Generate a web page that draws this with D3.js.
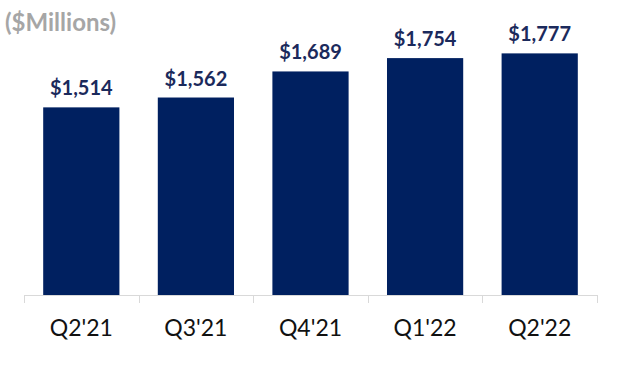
<!DOCTYPE html>
<html><head><meta charset="utf-8">
<script src="https://cdn.jsdelivr.net/npm/d3@7"></script>
<style>body{margin:0;background:#fff}</style>
</head><body>
<svg id="c" width="640" height="370"></svg>
<script>
const categories = ["Q2'21","Q3'21","Q4'21","Q1'22","Q2'22"];
const values = [1514,1562,1689,1754,1777];
const valueLabels = ["$1,514","$1,562","$1,689","$1,754","$1,777"];
const title = "($Millions)";

const svg = d3.select("#c");
const x = d3.scaleBand().domain(categories).range([24,597]).paddingInner(0.335).paddingOuter(0.1675);
const y = d3.scaleLinear().domain([600,2000]).range([295,7.6]);

svg.append("text").attr("x",5).attr("y",31)
  .attr("font-family","Lato").attr("font-weight","bold").attr("font-size",24)
  .attr("fill","#A6A6A6").text(title);

svg.selectAll("rect.bar").data(values).join("rect").attr("class","bar")
  .attr("x",(d,i)=>x(categories[i])).attr("width",x.bandwidth())
  .attr("y",d=>y(d)).attr("height",d=>y(600)-y(d)).attr("fill","#002060");

svg.selectAll("text.val").data(values).join("text").attr("class","val")
  .attr("x",(d,i)=>x(categories[i])+x.bandwidth()/2).attr("y",d=>y(d)-12)
  .attr("text-anchor","middle").attr("font-family","Lato").attr("font-weight","bold")
  .attr("font-size",20).attr("fill","#1B2A5C").text((d,i)=>valueLabels[i]);

// axis
const ax = svg.append("g");
ax.append("line").attr("x1",24).attr("x2",597).attr("y1",295.5).attr("y2",295.5)
  .attr("stroke","#D9D9D9").attr("stroke-width",1);
const bounds = categories.map(c=>x(c)-x.step()*x.paddingInner()/2).concat([597]);
ax.selectAll("line.tk").data(bounds).join("line").attr("class","tk")
  .attr("x1",d=>Math.round(d)+0.5).attr("x2",d=>Math.round(d)+0.5).attr("y1",295).attr("y2",303)
  .attr("stroke","#D9D9D9");
ax.selectAll("text.cat").data(categories).join("text").attr("class","cat")
  .attr("x",d=>x(d)+x.bandwidth()/2).attr("y",336).attr("text-anchor","middle")
  .attr("font-family","Lato").attr("font-size",23).attr("fill","#111").text(d=>d);
</script>
</body></html>
